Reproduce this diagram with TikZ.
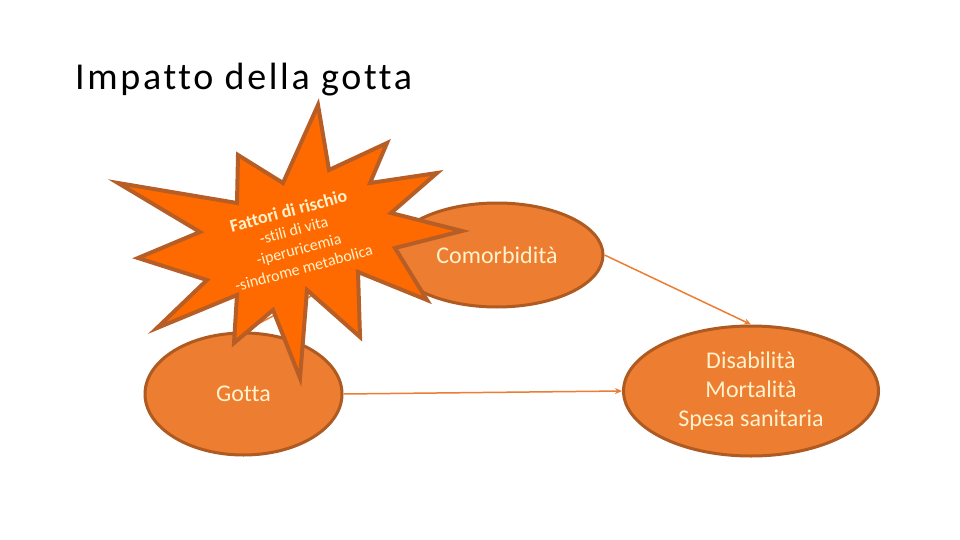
\documentclass[tikz,border=0pt]{standalone}
\usepackage{fontspec}
\setmainfont[Ligatures=NoCommon]{Carlito}
\newfontfamily\titlefont[LetterSpace=7,Ligatures=NoCommon]{Carlito}
\usetikzlibrary{shapes.geometric,arrows.meta}
\definecolor{ellfill}{RGB}{237,125,49}
\definecolor{elldraw}{RGB}{174,90,33}
\definecolor{starfill}{RGB}{255,106,0}
\definecolor{stardraw}{RGB}{182,94,38}
\definecolor{cream}{RGB}{255,242,204}
\definecolor{arrowc}{RGB}{237,125,49}
\begin{document}
\begin{tikzpicture}[x=1pt,y=-1pt,
  oval/.style={ellipse, fill=ellfill, draw=elldraw, line width=3pt, inner sep=0pt,
    text=cream, font=\fontsize{24}{29}\selectfont, align=center},
  conn/.style={draw=arrowc, line width=1.5pt, -{Stealth[length=7pt,width=6pt]}},
  starshape/.style={fill=starfill, draw=stardraw, line width=4pt, line join=miter},
]
\useasboundingbox (0,0) rectangle (960,540);
\fill[white] (0,0) rectangle (960,540);
\node[anchor=base west, font=\titlefont\fontsize{38}{45}\selectfont, inner sep=0pt] (title) at (75,90) {Impatto della gotta};

\node[oval, minimum width=197pt, minimum height=122pt] (gotta) at (243.5,394) {Gotta};
\node[oval, minimum width=212pt, minimum height=104pt] (com) at (497,255) {Comorbidità};
\node[oval, minimum width=255pt, minimum height=130pt] (dis) at (751,391) {Disabilità\\Mortalità\\Spesa sanitaria};

\draw[conn] (gotta.east) -- (dis.west);
\draw[conn] (com.east) -- (dis.north);
\draw[conn] (gotta.north) -- (com.west);

\draw[starshape] (318,105) -- (329,170) -- (387,143) -- (370,183) -- (437,173)
  -- (391,213) -- (462,231) -- (395,248) -- (427,300) -- (358,272) -- (360,337)
  -- (307,290) -- (300,378) -- (273,310) -- (234,343) -- (237,295) -- (157,328)
  -- (207,280) -- (138,258) -- (200,232) -- (118,183) -- (237,203) -- (238,155)
  -- (283,183) -- cycle;

\node[rotate=15, text=cream, align=center, inner sep=0pt, font=\fontsize{16}{19.5}\selectfont] (risk) at (296,239)
  {{\fontsize{18}{19.5}\selectfont\bfseries Fattori di rischio}\\-stili di vita\\-iperuricemia\\-sindrome metabolica};
\end{tikzpicture}
\end{document}
